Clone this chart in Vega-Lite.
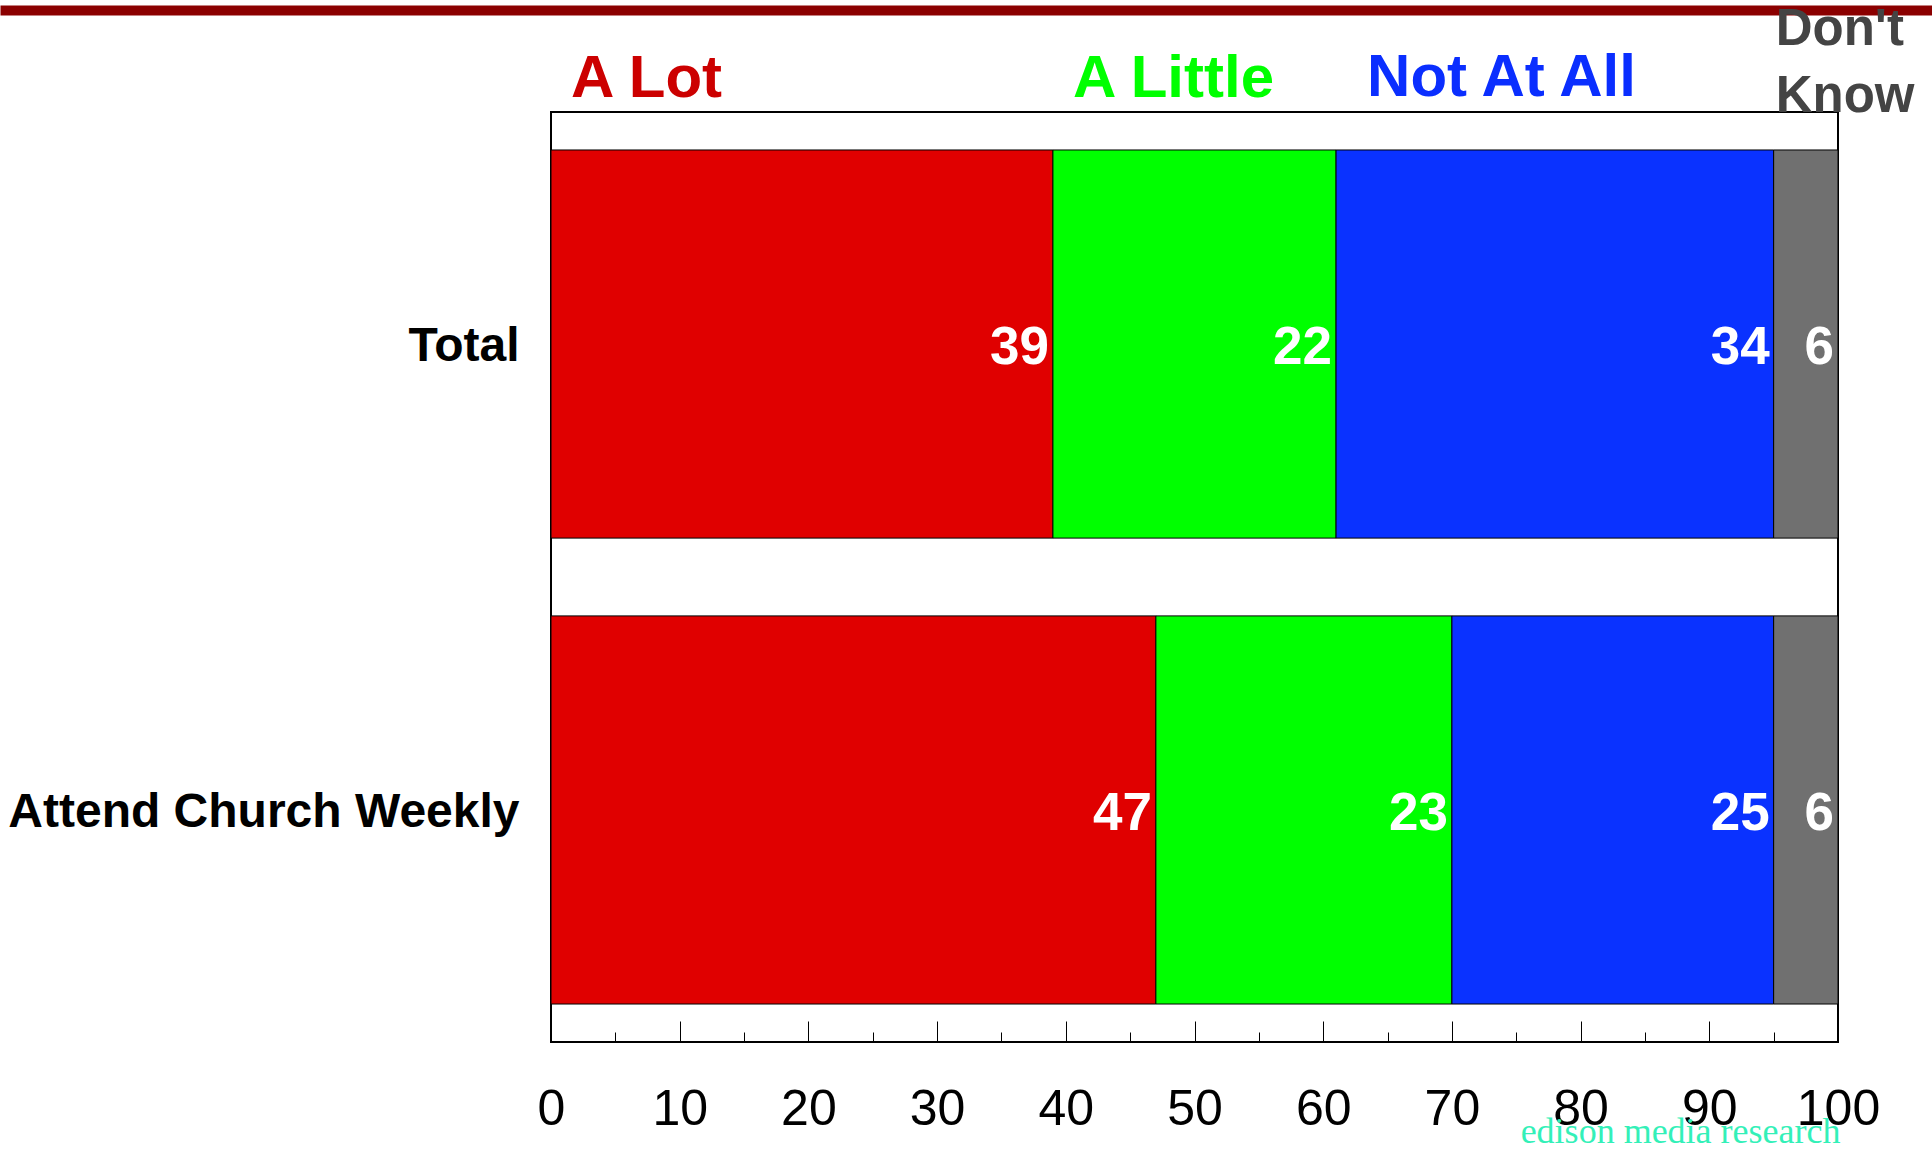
{
  "$schema": "https://vega.github.io/schema/vega-lite/v6.json",
  "autosize": {"type": "none"},
  "padding": {"left": 551, "top": 112, "right": 94, "bottom": 108},
  "width": 1287,
  "height": 930,
  "background": "white",
  "config": {"view": {"stroke": "black", "strokeWidth": 2}},
  "data": {
    "values": [
      {"group": "Total", "answer": "A Lot", "pct": 39},
      {"group": "Total", "answer": "A Little", "pct": 22},
      {"group": "Total", "answer": "Not At All", "pct": 34},
      {"group": "Total", "answer": "Don't Know", "pct": 6},
      {"group": "Attend Church Weekly", "answer": "A Lot", "pct": 47},
      {"group": "Attend Church Weekly", "answer": "A Little", "pct": 23},
      {"group": "Attend Church Weekly", "answer": "Not At All", "pct": 25},
      {"group": "Attend Church Weekly", "answer": "Don't Know", "pct": 6}
    ]
  },
  "transform": [
    {"calculate": "indexof([\"A Lot\", \"A Little\", \"Not At All\", \"Don't Know\"], datum.answer)", "as": "rank"},
    {"stack": "pct", "groupby": ["group"], "sort": [{"field": "rank", "order": "ascending"}], "as": ["v0", "v1"]}
  ],
  "resolve": {"scale": {"x": "independent"}, "axis": {"x": "independent"}},
  "layer": [
    {
      "layer": [
        {
          "mark": {"type": "bar", "stroke": "black", "strokeWidth": 1},
          "encoding": {
            "y": {
              "field": "group", "type": "nominal",
              "sort": ["Total", "Attend Church Weekly"],
              "scale": {"paddingInner": 0.167, "paddingOuter": 0.0815},
              "axis": {
                "title": null, "domain": false, "grid": false,
                "tickSize": -22, "tickColor": "black", "tickWidth": 1,
                "labelPadding": 54, "labelLimit": 0, "labelOffset": 3,
                "labelFont": "Liberation Sans", "labelFontSize": 48, "labelFontWeight": "bold",
                "labelColor": "black", "labelAlign": "right", "labelBaseline": "middle"
              }
            },
            "x": {
              "field": "v0", "type": "quantitative",
              "scale": {"domain": [0, 100], "clamp": true, "nice": false},
              "axis": {
                "orient": "bottom",
                "values": [0, 5, 10, 15, 20, 25, 30, 35, 40, 45, 50, 55, 60, 65, 70, 75, 80, 85, 90, 95, 100],
                "domain": false, "grid": false,
                "tickSize": {"condition": {"test": "datum.value % 10 === 0", "value": -21}, "value": -10},
                "tickColor": "black", "tickWidth": 1,
                "labelExpr": "datum.value % 10 === 0 ? datum.label : ''",
                "labelFont": "Liberation Sans", "labelFontSize": 50, "labelColor": "black",
                "labelPadding": 63, "labelFlush": false, "labelOverlap": false,
                "title": "edison media research",
                "titleFont": "Liberation Serif", "titleFontSize": 36, "titleFontWeight": "normal",
                "titleColor": "#33F0B8", "titleAlign": "right", "titleAnchor": "end",
                "titleX": 1289, "titleY": 100, "titleBaseline": "alphabetic"
              }
            },
            "x2": {"field": "v1"},
            "color": {
              "field": "answer", "type": "nominal",
              "scale": {"domain": ["A Lot", "A Little", "Not At All", "Don't Know"], "range": ["#E00000", "#00FF00", "#0A32FF", "#707070"]},
              "legend": null
            }
          }
        },
        {
          "mark": {"type": "text", "align": "right", "baseline": "middle", "dx": -4, "dy": 4, "font": "Liberation Sans", "fontSize": 53, "fontWeight": "bold", "color": "white"},
          "encoding": {
            "y": {"field": "group", "type": "nominal", "sort": ["Total", "Attend Church Weekly"]},
            "x": {"field": "v1", "type": "quantitative", "scale": {"domain": [0, 100], "clamp": true, "nice": false}},
            "text": {"field": "pct", "type": "quantitative"}
          }
        },
        {
          "transform": [{"filter": "datum.group === 'Total' && datum.rank < 2"}],
          "mark": {"type": "text", "align": "left", "baseline": "alphabetic", "dx": 20, "dy": -247, "font": "Liberation Sans", "fontSize": 60, "fontWeight": "bold"},
          "encoding": {
            "y": {"field": "group", "type": "nominal", "sort": ["Total", "Attend Church Weekly"]},
            "x": {"field": "v0", "type": "quantitative", "scale": {"domain": [0, 100], "clamp": true, "nice": false}},
            "text": {"field": "answer", "type": "nominal"},
            "color": {
              "condition": {"test": "datum.answer === 'A Lot'", "value": "#CC0000"},
              "value": "#00FF00"
            }
          }
        },
        {
          "transform": [{"filter": "datum.group === 'Total' && datum.rank === 2"}],
          "mark": {"type": "text", "align": "left", "baseline": "alphabetic", "dx": 31, "dy": -248, "font": "Liberation Sans", "fontSize": 60, "fontWeight": "bold", "color": "#0A2EFF"},
          "encoding": {
            "y": {"field": "group", "type": "nominal", "sort": ["Total", "Attend Church Weekly"]},
            "x": {"field": "v0", "type": "quantitative", "scale": {"domain": [0, 100], "clamp": true, "nice": false}},
            "text": {"field": "answer", "type": "nominal"}
          }
        },
        {
          "transform": [{"filter": "datum.group === 'Total' && datum.rank === 3"}],
          "mark": {"type": "text", "align": "left", "baseline": "alphabetic", "dx": 2, "dy": -299, "lineBreak": " ", "lineHeight": 67, "font": "Liberation Sans", "fontSize": 51, "fontWeight": "bold", "color": "#444444"},
          "encoding": {
            "y": {"field": "group", "type": "nominal", "sort": ["Total", "Attend Church Weekly"]},
            "x": {"field": "v0", "type": "quantitative", "scale": {"domain": [0, 100], "clamp": true, "nice": false}},
            "text": {"field": "answer", "type": "nominal"}
          }
        }
      ]
    },
    {
      "mark": {"type": "rule", "opacity": 0},
      "encoding": {
        "x": {
          "datum": 0, "type": "quantitative",
          "scale": {"domain": [0, 1], "range": [-551, 1381], "nice": false},
          "axis": {
            "orient": "top", "offset": 102, "title": null,
            "domain": true, "domainColor": "#8B0000", "domainWidth": 10,
            "ticks": false, "labels": false, "grid": false
          }
        }
      }
    }
  ]
}
